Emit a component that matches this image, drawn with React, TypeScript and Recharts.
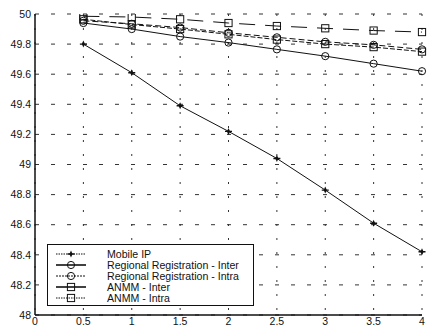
import React from 'react';
import { LineChart, Line, XAxis, YAxis, CartesianGrid } from 'recharts';

const xValues = [0.5, 1, 1.5, 2, 2.5, 3, 3.5, 4];
const mobileIP = [49.8, 49.61, 49.39, 49.22, 49.04, 48.83, 48.61, 48.42];
const rrInter = [49.94, 49.9, 49.85, 49.81, 49.765, 49.72, 49.67, 49.62];
const rrIntra = [49.955, 49.935, 49.91, 49.875, 49.845, 49.815, 49.795, 49.765];
const anmmInter = [49.985, 49.98, 49.965, 49.94, 49.92, 49.905, 49.89, 49.88];
const anmmIntra = [49.965, 49.93, 49.9, 49.865, 49.83, 49.8, 49.78, 49.75];

const xTicks = [0, 0.5, 1, 1.5, 2, 2.5, 3, 3.5, 4];
const yTicks = [48, 48.2, 48.4, 48.6, 48.8, 49, 49.2, 49.4, 49.6, 49.8, 50];

const seriesNames = [
  'Mobile IP',
  'Regional Registration - Inter',
  'Regional Registration - Intra',
  'ANMM - Inter',
  'ANMM - Intra',
];

const data = xValues.map((x, i) => ({
  x,
  mobileIP: mobileIP[i],
  rrInter: rrInter[i],
  rrIntra: rrIntra[i],
  anmmInter: anmmInter[i],
  anmmIntra: anmmIntra[i],
}));

const INK = '#111';
const FONT = '"Liberation Sans", Arial, Helvetica, sans-serif';

type Marker = 'star' | 'circle' | 'square';

const drawMarker = (kind: Marker, cx: number, cy: number, key?: any) => {
  if (kind === 'star') {
    return (
      <g key={key}>
        <path d={`M${cx},${cy - 3.5} L${cx + 1.6},${cy} L${cx},${cy + 3.5} L${cx - 1.6},${cy} Z`} fill={INK} />
        <path d={`M${cx - 3.5},${cy} L${cx + 3.5},${cy}`} stroke={INK} strokeWidth={1.4} />
      </g>
    );
  }
  if (kind === 'circle') {
    return <circle key={key} cx={cx} cy={cy} r={3.6} fill="none" stroke={INK} strokeWidth={1} />;
  }
  return <rect key={key} x={cx - 3.6} y={cy - 3.6} width={7.2} height={7.2} fill="none" stroke={INK} strokeWidth={1} />;
};

const makeDot = (kind: Marker) => (props: any) => {
  const { cx, cy, key, index } = props;
  if (cx == null || cy == null) return <g key={key ?? index} />;
  return drawMarker(kind, cx, cy, key ?? `${kind}-${index}`);
};

const legendStyles: { kind: Marker; dash?: string; width: number }[] = [
  { kind: 'star', dash: '1.5 1', width: 1 },
  { kind: 'circle', width: 1.6 },
  { kind: 'circle', dash: '2 1', width: 1 },
  { kind: 'square', width: 1.6 },
  { kind: 'square', dash: '1.5 1', width: 1 },
];

const LegendBox = () => (
  <div
    style={{
      position: 'absolute',
      left: 47,
      top: 244,
      border: '1px solid #111',
      background: '#fff',
      width: 207,
      height: 62,
      boxSizing: 'border-box',
      paddingTop: 3,
      fontFamily: FONT,
      fontSize: 10.6,
      color: '#111',
    }}
  >
    {seriesNames.map((name, i) => (
      <div key={name} style={{ display: 'flex', alignItems: 'center', height: 11, overflow: 'visible' }}>
        <svg width={52} height={10} style={{ display: 'block', flex: 'none' }}>
          <line
            x1={8}
            x2={38}
            y1={5}
            y2={5}
            stroke={INK}
            strokeWidth={legendStyles[i].width}
            strokeDasharray={legendStyles[i].dash}
          />
          {drawMarker(legendStyles[i].kind, 23, 5)}
        </svg>
        <span style={{ marginLeft: 7, lineHeight: '10px', whiteSpace: 'nowrap' }}>{name}</span>
      </div>
    ))}
  </div>
);

export default function App() {
  return (
    <div style={{ position: 'absolute', left: 0, top: 0, width: 433, height: 327, background: '#fff' }}>
      <LineChart
        width={433}
        height={327}
        data={data}
        margin={{ top: 14, right: 11, bottom: 0, left: 0 }}
      >
        <CartesianGrid horizontal={true} vertical={false} stroke="#333" strokeDasharray="4 12" />
        <CartesianGrid horizontal={false} vertical={true} stroke="#333" strokeDasharray="2 12" />
        <XAxis
          dataKey="x"
          type="number"
          domain={[0, 4]}
          ticks={xTicks}
          interval={0}
          height={12}
          tickSize={0}
          tickMargin={3}
          axisLine={{ stroke: INK, strokeWidth: 1.5 }}
          tick={{ fill: INK, fontSize: 10.5, fontFamily: FONT }}
        />
        <YAxis
          type="number"
          domain={[48, 50]}
          ticks={yTicks}
          interval={0}
          width={35}
          tickSize={0}
          tickMargin={4}
          axisLine={{ stroke: INK, strokeWidth: 1.5 }}
          tick={{ fill: INK, fontSize: 10.5, fontFamily: FONT }}
          tickFormatter={(v: number) => String(v)}
          allowDataOverflow
        />
        <Line
          dataKey="mobileIP"
          name={seriesNames[0]}
          stroke={INK}
          strokeWidth={1}
          dot={makeDot('star')}
          isAnimationActive={false}
        />
        <Line
          dataKey="rrInter"
          name={seriesNames[1]}
          stroke={INK}
          strokeWidth={1}
          dot={makeDot('circle')}
          isAnimationActive={false}
        />
        <Line
          dataKey="rrIntra"
          name={seriesNames[2]}
          stroke={INK}
          strokeWidth={1}
          strokeDasharray="6 3"
          dot={makeDot('circle')}
          isAnimationActive={false}
        />
        <Line
          dataKey="anmmInter"
          name={seriesNames[3]}
          stroke={INK}
          strokeWidth={1}
          strokeDasharray="16 10"
          dot={makeDot('square')}
          isAnimationActive={false}
        />
        <Line
          dataKey="anmmIntra"
          name={seriesNames[4]}
          stroke={INK}
          strokeWidth={1}
          strokeDasharray="5 2"
          dot={makeDot('square')}
          isAnimationActive={false}
        />
      </LineChart>
      <LegendBox />
    </div>
  );
}
